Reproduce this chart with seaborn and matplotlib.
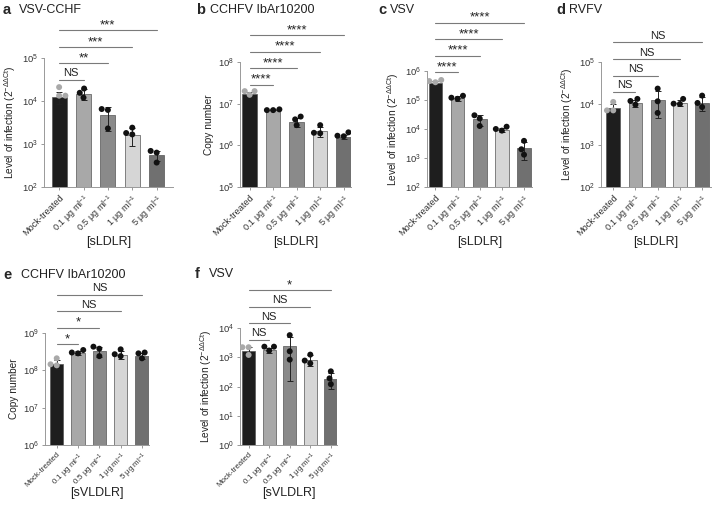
import numpy as np
import pandas as pd
import seaborn as sns
from matplotlib import pyplot as plt
from matplotlib import ticker, transforms

sns.set_style('ticks')
plt.rcParams['font.family'] = ['Liberation Sans', 'DejaVu Sans']
plt.rcParams['mathtext.fontset'] = 'custom'
plt.rcParams['mathtext.rm'] = 'Liberation Sans'
plt.rcParams['mathtext.it'] = 'Liberation Sans:italic'
plt.rcParams['mathtext.default'] = 'regular'

# categorii
conds = ['Mock-treated', '0.1 μg ml$^{-1}$', '0.5 μg ml$^{-1}$', '1 μg ml$^{-1}$', '5 μg ml$^{-1}$']
bar_colors = ['#1e1e1e', '#a8a8a8', '#8a8a8a', '#d6d6d6', '#707070']
dot_colors = ['#a9a9a9', '#111111', '#111111', '#111111', '#111111']

# a - VSV-CCHF
a_mean = [1.26e4, 1.45e4, 4.7e3, 1.6e3, 5.5e2]
a_sd = [4.0e3, 4.2e3, 2.7e3, 7.0e2, 1.5e2]
a_pts = [[2.1e4, 1.33e4, 1.33e4], [1.95e4, 1.2e4, 1.55e4], [6.5e3, 6.2e3, 2.3e3],
         [2.4e3, 1.67e3, 1.8e3], [6.9e2, 6.3e2, 3.7e2]]
a_sig = ['NS', '**', '***', '***']

# b - CCHFV IbAr10200
b_mean = [1.67e7, 7.2e6, 3.7e6, 2.2e6, 1.6e6]
b_sd = [2.0e6, 3.0e5, 9.0e5, 6.0e5, 2.0e5]
b_pts = [[1.63e7, 2.0e7, 2.0e7], [7.0e6, 7.3e6, 7.0e6], [4.9e6, 4.2e6, 3.05e6],
         [3.05e6, 2.0e6, 1.95e6], [2.05e6, 1.65e6, 1.7e6]]
b_sig = ['****', '****', '****', '****']

# c - VSV
c_mean = [3.8e5, 1.15e5, 2.2e4, 9.5e3, 2.15e3]
c_sd = [6.0e4, 2.0e4, 9.0e3, 1.5e3, 1.3e3]
c_pts = [[4.9e5, 4.5e5, 4.1e5], [1.1e5, 1.4e5, 1.2e5], [2.97e4, 2.3e4, 1.27e4],
         [8.8e3, 1.2e4, 1.0e4], [3.9e3, 2.0e3, 1.3e3]]
c_sig = ['****', '****', '****', '****']

# d - RVFV
d_mean = [8.0e3, 1.05e4, 1.25e4, 1.05e4, 1.05e4]
d_sd = [2.0e3, 2.0e3, 8.0e3, 1.8e3, 4.0e3]
d_pts = [[1.1e4, 6.9e3, 6.9e3], [1.3e4, 9.5e3, 1.16e4], [2.3e4, 1.14e4, 6.0e3],
         [1.3e4, 9.8e3, 1.0e4], [1.56e4, 8.3e3, 1.04e4]]
d_sig = ['NS', 'NS', 'NS', 'NS']

# e - CCHFV IbAr10200 (sVLDLR)
e_mean = [1.5e8, 2.9e8, 3.3e8, 2.6e8, 2.45e8]
e_sd = [4.0e7, 4.0e7, 1.0e8, 6.0e7, 4.0e7]
e_pts = [[2.1e8, 1.45e8, 1.36e8], [2.85e8, 3.5e8, 3.0e8], [4.3e8, 3.8e8, 2.4e8],
         [3.65e8, 2.7e8, 2.4e8], [3.0e8, 2.85e8, 2.1e8]]
e_sig = ['*', '*', 'NS', 'NS']

# f - VSV (sVLDLR)
f_mean = [1.6e3, 1.8e3, 2.45e3, 8.3e2, 1.8e2]
f_sd = [6.0e2, 3.5e2, 2.3e3, 3.2e2, 1.0e2]
f_pts = [[2.2e3, 1.2e3, 2.2e3], [2.3e3, 2.3e3, 1.7e3], [5.7e3, 1.6e3, 8.3e2],
         [1.23e3, 6.2e2, 7.7e2], [3.3e2, 1.9e2, 1.2e2]]
f_sig = ['NS', 'NS', 'NS', '*']

lvl = 'Level of infection (2$^{-ΔΔCt}$)'
panels = [
    # litera, titlu, medii, sd, puncte, semnif, ylim, ylabel, xlabel, box(px), xlim, baza paranteze,
    # pozitie titlu, y eticheta x (px), marime etichete x
    ('a', 'VSV-CCHF', a_mean, a_sd, a_pts, a_sig, (1e2, 1e5), lvl, '[sLDLR]',
     (44, 58, 173, 187), (-0.62, 4.67), 0.83, (3, 19, 10), 242, 6.6),
    ('b', 'CCHFV IbAr10200', b_mean, b_sd, b_pts, b_sig, (1e5, 1e8), 'Copy number', '[sLDLR]',
     (240, 62, 351, 187), (-0.41, 4.31), 0.82, (196, 210, 10), 242, 6.6),
    ('c', 'VSV', c_mean, c_sd, c_pts, c_sig, (1e2, 1e6), lvl, '[sLDLR]',
     (427, 71, 532, 187), (-0.38, 4.36), 0.99, (378, 390, 10), 242, 6.6),
    ('d', 'RVFV', d_mean, d_sd, d_pts, d_sig, (1e2, 1e5), lvl, '[sLDLR]',
     (601, 62, 711, 187), (-0.55, 4.4), 0.76, (556, 569, 10), 242, 6.6),
    ('e', 'CCHFV IbAr10200', e_mean, e_sd, e_pts, e_sig, (1e6, 1e9), 'Copy number', '[sVLDLR]',
     (45, 333, 149, 445), (-0.55, 4.33), 0.90, (3, 21, 275), 493, 5.7),
    ('f', 'VSV', f_mean, f_sd, f_pts, f_sig, (1e0, 1e4), lvl, '[sVLDLR]',
     (240, 328, 337, 445), (-0.42, 4.3), 0.90, (195, 209, 274), 493, 5.7),
]

W, H = 723, 508
fig = plt.figure(figsize=(W / 100, H / 100), dpi=100)

for letter, title, means, sds, pts, sigs, ylim, ylabel, xlabel, box, xlim, base, tpos, xly, xts in panels:
    l, t, r, b = box
    ax = fig.add_axes([l / W, 1 - b / H, (r - l) / W, (b - t) / H])
    ax.set_yscale('log')

    sns.barplot(x=conds, y=means, hue=conds, palette=bar_colors, width=0.62,
                edgecolor='#555555', linewidth=0.5, legend=False, ax=ax, zorder=2)
    ax.errorbar(np.arange(len(conds)), means, yerr=sds, fmt='none', ecolor='#222222',
                elinewidth=0.7, capsize=2.2, capthick=0.7, zorder=3)

    df = pd.DataFrame({'cond': np.repeat(conds, 3), 'val': np.concatenate(pts)})
    sns.swarmplot(data=df, x='cond', y='val', hue='cond', palette=dot_colors, order=conds,
                  size=4.3, legend=False, ax=ax, zorder=4, linewidth=0)

    ax.set_ylim(*ylim)
    ax.set_xlim(*xlim)
    ax.yaxis.set_major_locator(ticker.LogLocator(base=10, numticks=10))
    ax.yaxis.set_minor_locator(ticker.NullLocator())
    ax.yaxis.set_major_formatter(ticker.LogFormatterSciNotation())
    ax.set_ylabel(ylabel, fontsize=7.3, color='#222222', labelpad=3)
    ax.set_xlabel(xlabel, fontsize=9, color='#222222', va='center')
    ax.xaxis.set_label_coords(0.5, -(xly - b) / (b - t))
    ax.set_xticks(range(len(conds)))
    ax.set_xticklabels(conds, rotation=45, ha='right', rotation_mode='anchor')
    ax.tick_params(axis='both', length=2.5, width=0.6, color='#888888', labelsize=6.8,
                   labelcolor='#333333', pad=1.5)
    ax.tick_params(axis='x', labelsize=xts)
    for s in ['top', 'right']:
        ax.spines[s].set_visible(False)
    for s in ['left', 'bottom']:
        ax.spines[s].set_color('#999999')
        ax.spines[s].set_linewidth(0.7)

    # paranteze de semnificatie
    trans = transforms.blended_transform_factory(ax.transData, ax.transAxes)
    step = 16.5 / (b - t)
    for k, s in enumerate(sigs):
        yy = base + k * step
        ax.plot([0, k + 1], [yy, yy], color='#7a7a7a', lw=0.8, transform=trans, clip_on=False)
        if s == 'NS':
            ax.text((k + 1) / 2, yy + 0.012, s, transform=trans, ha='center', va='bottom',
                    fontsize=8, color='#222222')
        else:
            ax.text((k + 1) / 2, yy - 0.01, s, transform=trans, ha='center', va='bottom',
                    fontsize=9.5, color='#222222')

    fig.text(tpos[0] / W, 1 - tpos[2] / H, letter, fontsize=10.5, fontweight='bold', va='center')
    fig.text(tpos[1] / W, 1 - tpos[2] / H, title, fontsize=9, va='center', color='#222222')

fig.savefig('out.png', dpi=100)
